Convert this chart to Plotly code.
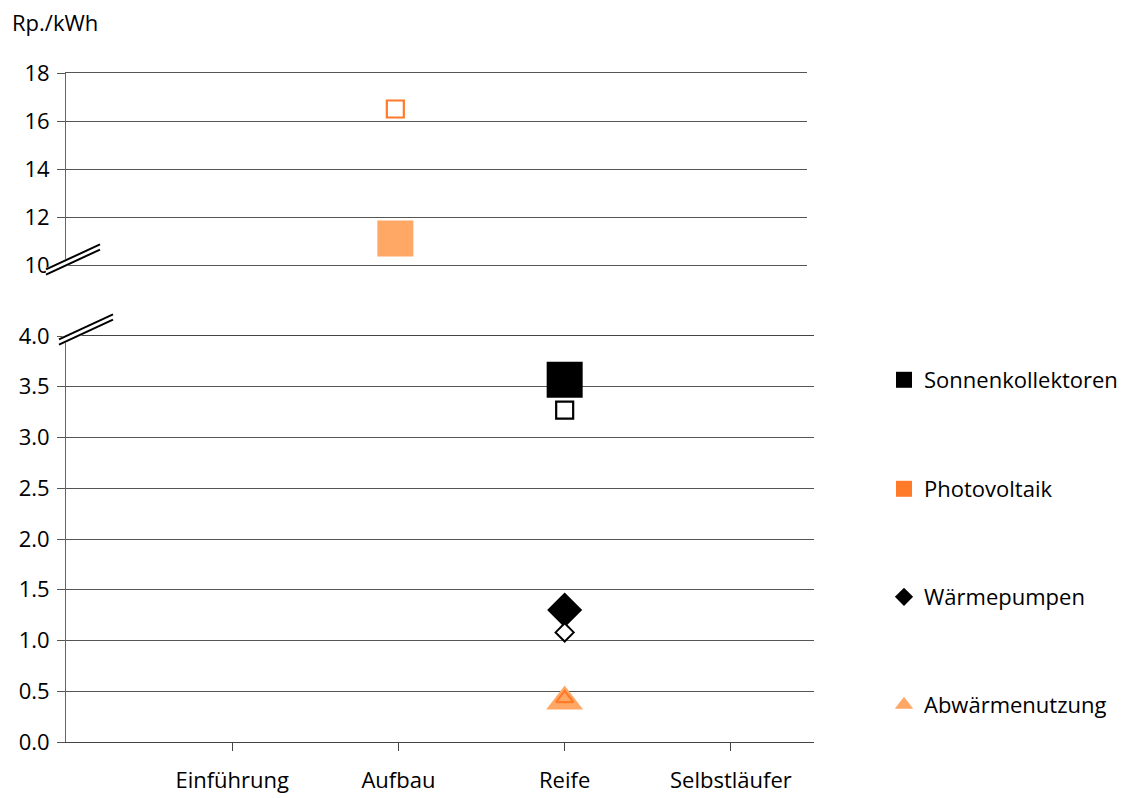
import plotly.graph_objects as go

# Marktphasen (Kategorien der x-Achse)
stufen = ["Einführung", "Aufbau", "Reife", "Selbstläufer"]

# Kosten in Rp./kWh je Technologie: gefüllte und offene Markierung
pv_stufe = ["Aufbau"]
pv_gefuellt = [11.1]
pv_offen = [16.5]

sk_stufe = ["Reife"]
sk_gefuellt = [3.57]
sk_offen = [3.27]

wp_stufe = ["Reife"]
wp_gefuellt = [1.30]
wp_offen = [1.08]

aw_stufe = ["Reife"]
aw_gefuellt = [0.40]
aw_offen = [0.43]

oben_ticks = [10, 12, 14, 16, 18]
unten_ticks = [0.0, 0.5, 1.0, 1.5, 2.0, 2.5, 3.0, 3.5, 4.0]

SCHWARZ = "#000000"
ORANGE = "#FF7A29"
HELLORANGE = "#FFA865"
GRID = "#555555"
FONT = "Open Sans"

# Pixelgeometrie des Zeichenbereichs
W, H = 1125, 798
L, R, T, B = 66, 814, 73, 742
PW, PH = R - L, B - T


def px(x):
    return (x - L) / PW


def py(y):
    return (B - y) / PH


fig = go.Figure()

# Oberer Bereich (10–18)
fig.add_trace(go.Scatter(
    x=pv_stufe, y=pv_gefuellt, xaxis="x2", yaxis="y2", mode="markers",
    marker=dict(symbol="square", size=36, color=HELLORANGE, line=dict(width=0)),
    showlegend=False, hoverinfo="y"))
fig.add_trace(go.Scatter(
    x=pv_stufe, y=pv_offen, xaxis="x2", yaxis="y2", mode="markers",
    marker=dict(symbol="square-open", size=17, color=ORANGE, line=dict(width=2.2, color=ORANGE)),
    showlegend=False, hoverinfo="y"))

# Unterer Bereich (0–4)
fig.add_trace(go.Scatter(
    x=sk_stufe, y=sk_gefuellt, mode="markers",
    marker=dict(symbol="square", size=36, color=SCHWARZ, line=dict(width=0)),
    showlegend=False, hoverinfo="y"))
fig.add_trace(go.Scatter(
    x=sk_stufe, y=sk_offen, mode="markers",
    marker=dict(symbol="square-open", size=17, color=SCHWARZ, line=dict(width=2.2, color=SCHWARZ)),
    showlegend=False, hoverinfo="y"))
fig.add_trace(go.Scatter(
    x=wp_stufe, y=wp_gefuellt, mode="markers",
    marker=dict(symbol="diamond", size=27, color=SCHWARZ, line=dict(width=0)),
    showlegend=False, hoverinfo="y"))
fig.add_trace(go.Scatter(
    x=wp_stufe, y=wp_offen, mode="markers",
    marker=dict(symbol="diamond", size=14, color="white", line=dict(width=2, color=SCHWARZ)),
    showlegend=False, hoverinfo="y"))
fig.add_trace(go.Scatter(
    x=aw_stufe, y=aw_gefuellt, mode="markers",
    marker=dict(symbol="triangle-up", size=32, color=HELLORANGE, line=dict(width=0)),
    showlegend=False, hoverinfo="y"))
fig.add_trace(go.Scatter(
    x=aw_stufe, y=aw_offen, mode="markers",
    marker=dict(symbol="triangle-up-open", size=15, color=ORANGE, line=dict(width=2.2, color=ORANGE)),
    showlegend=False, hoverinfo="y"))

# Legendeneinträge
legende = [
    ("Sonnenkollektoren", "square", 16, SCHWARZ, "legend", 380),
    ("Photovoltaik", "square", 16, ORANGE, "legend2", 489),
    ("Wärmepumpen", "diamond", 14, SCHWARZ, "legend3", 597),
    ("Abwärmenutzung", "triangle-up", 16, HELLORANGE, "legend4", 705),
]
leg_layout = {}
for name, sym, size, col, lg, ypix in legende:
    fig.add_trace(go.Scatter(
        x=[None], y=[None], mode="markers", name=name, legend=lg,
        marker=dict(symbol=sym, size=size, color=col, line=dict(width=0))))
    leg_layout[lg] = dict(
        x=px(884), xanchor="left", y=py(ypix), yanchor="middle",
        bgcolor="rgba(0,0,0,0)", borderwidth=0,
        font=dict(family=FONT, size=22, color="#000000"))

achse_font = dict(family=FONT, size=22, color="#000000")

fig.update_layout(
    width=W, height=H,
    margin=dict(l=L, r=W - R, t=T, b=H - B, pad=0, autoexpand=False),
    paper_bgcolor="white", plot_bgcolor="white",
    font=achse_font,
    xaxis=dict(
        domain=[0, 1], anchor="y", type="category",
        categoryorder="array", categoryarray=stufen, tickvals=stufen,
        range=[-1, 3.5], showgrid=False, zeroline=False,
        showline=True, mirror=True, linecolor="#444444", linewidth=1.2,
        ticks="outside", ticklen=8, tickwidth=1, tickcolor="#444444",
        ticklabelstandoff=10, tickfont=achse_font, automargin=False),
    yaxis=dict(
        domain=[0, py(336)], anchor="x", range=[0, 4],
        tickvals=unten_ticks, tickformat=".1f",
        showgrid=True, gridcolor=GRID, gridwidth=1.2, zeroline=False,
        showline=True, linecolor="#666666", linewidth=1,
        ticks="outside", ticklen=8, tickcolor=GRID, tickwidth=1.2,
        ticklabelstandoff=3, tickfont=achse_font, automargin=False),
    xaxis2=dict(
        domain=[0, px(807)], anchor="y2", type="category",
        categoryorder="array", categoryarray=stufen,
        range=[-1, 3.5], showgrid=False, zeroline=False,
        showline=True, mirror=True, linecolor=GRID, linewidth=1.2,
        showticklabels=False, ticks="", automargin=False),
    yaxis2=dict(
        domain=[py(265), 1], anchor="x2", range=[10, 18],
        tickvals=oben_ticks,
        showgrid=True, gridcolor=GRID, gridwidth=1.2, zeroline=False,
        showline=True, linecolor="#666666", linewidth=1,
        ticks="outside", ticklen=8, tickcolor=GRID, tickwidth=1.2,
        ticklabelstandoff=3, tickfont=achse_font, automargin=False),
    **leg_layout,
)

# Einheitenbeschriftung
fig.add_annotation(
    text="Rp./kWh", xref="paper", yref="paper", x=px(10), y=py(22),
    xanchor="left", yanchor="middle", showarrow=False, font=achse_font)

# Achsenbruch-Markierungen
for (x0, y0, x1, y1) in [(46, 272, 100, 247), (59, 342, 113, 317)]:
    fig.add_shape(type="line", xref="paper", yref="paper",
                  x0=px(x0), y0=py(y0), x1=px(x1), y1=py(y1),
                  line=dict(color="white", width=7))
    for d in (-2.6, 2.6):
        fig.add_shape(type="line", xref="paper", yref="paper",
                      x0=px(x0), y0=py(y0 + d), x1=px(x1), y1=py(y1 + d),
                      line=dict(color="black", width=2))

fig.write_html("out.html")
